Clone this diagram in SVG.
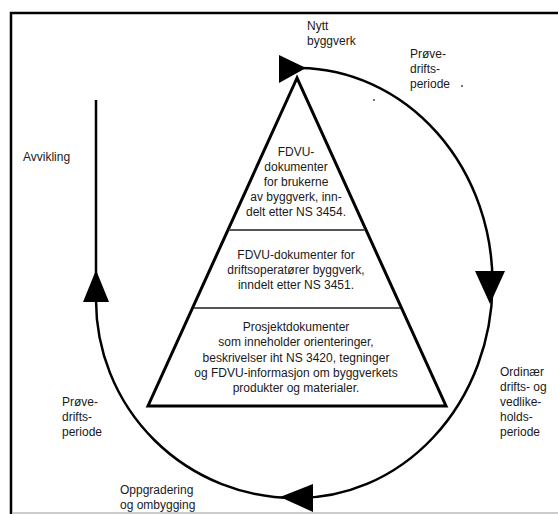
<svg xmlns="http://www.w3.org/2000/svg" width="558" height="514" viewBox="0 0 558 514">
  <style>
    text { font-family: "Liberation Sans", Arial, sans-serif; font-size: 12px; fill: #1a1a1a; }
    .mid { text-anchor: middle; }
    .cycle { fill: none; stroke: #000; stroke-width: 2.5; }
    .head { fill: #000; stroke: none; }
    .pyr { fill: #fff; stroke: #000; stroke-width: 3; stroke-linejoin: miter; }
    .sep { stroke: #555; stroke-width: 2; }
  </style>

  <!-- frame -->
  <rect x="0" y="0" width="558" height="514" fill="#fff"/>
  <path d="M11,514 V13 H558" fill="none" stroke="#000" stroke-width="2.5"/>
  <line x1="12" y1="513" x2="558" y2="513" stroke="#bbb" stroke-width="1.5"/>

  <!-- life-cycle connectors -->
  <g id="connectors">
    <!-- top to right to bottom -->
    <path class="cycle" d="M300,68 A195,215 0 0 1 295,498"/>
    <!-- bottom to left side -->
    <path class="cycle" d="M295,498 A199,198 0 0 1 96,300"/>
    <!-- phase-out line -->
    <line x1="96" y1="100" x2="96" y2="300" stroke="#000" stroke-width="2.5"/>
    <polygon class="head" points="279,55 279,83 306,68"/>
    <polygon class="head" points="475,271 505,271 490,304"/>
    <polygon class="head" points="313,484 313,512 280,497"/>
    <polygon class="head" points="96,270 83,302 109,302"/>
    <circle cx="462" cy="86" r="0.9" fill="#333"/>
    <circle cx="374" cy="100" r="0.9" fill="#333"/>
  </g>

  <!-- document pyramid -->
  <g id="pyramid">
    <polygon class="pyr" points="297,78 148,406 446,406"/>
    <line class="sep" x1="229" y1="230" x2="365" y2="230"/>
    <line class="sep" x1="194" y1="308" x2="400" y2="308"/>
  </g>

  <g id="layer-users">
    <text class="mid" x="296" y="156">FDVU-</text>
    <text class="mid" x="296" y="171">dokumenter</text>
    <text class="mid" x="296" y="186">for brukerne</text>
    <text class="mid" x="296" y="201">av byggverk, inn-</text>
    <text class="mid" x="296" y="216">delt etter NS 3454.</text>
  </g>

  <g id="layer-operators">
    <text class="mid" x="296" y="259">FDVU-dokumenter for</text>
    <text class="mid" x="296" y="274">driftsoperatører byggverk,</text>
    <text class="mid" x="296" y="289">inndelt etter NS 3451.</text>
  </g>

  <g id="layer-project">
    <text class="mid" x="296" y="331">Prosjektdokumenter</text>
    <text class="mid" x="296" y="346">som inneholder orienteringer,</text>
    <text class="mid" x="296" y="362">beskrivelser iht NS 3420, tegninger</text>
    <text class="mid" x="296" y="377">og FDVU-informasjon om byggverkets</text>
    <text class="mid" x="296" y="392">produkter og materialer.</text>
  </g>

  <!-- phase labels -->
  <g id="new-building">
    <text x="307" y="30">Nytt</text>
    <text x="307" y="45">byggverk</text>
  </g>
  <g id="trial-period-1">
    <text x="410" y="58">Prøve-</text>
    <text x="410" y="73">drifts-</text>
    <text x="410" y="88">periode</text>
  </g>
  <g id="ordinary-period">
    <text x="500" y="376">Ordinær</text>
    <text x="500" y="391">drifts- og</text>
    <text x="500" y="406">vedlike-</text>
    <text x="500" y="421">holds-</text>
    <text x="500" y="436">periode</text>
  </g>
  <g id="upgrade">
    <text x="120" y="494">Oppgradering</text>
    <text x="120" y="509">og ombygging</text>
  </g>
  <g id="trial-period-2">
    <text x="62" y="406">Prøve-</text>
    <text x="62" y="421">drifts-</text>
    <text x="62" y="436">periode</text>
  </g>
  <g id="phase-out">
    <text x="23" y="161">Avvikling</text>
  </g>
</svg>
